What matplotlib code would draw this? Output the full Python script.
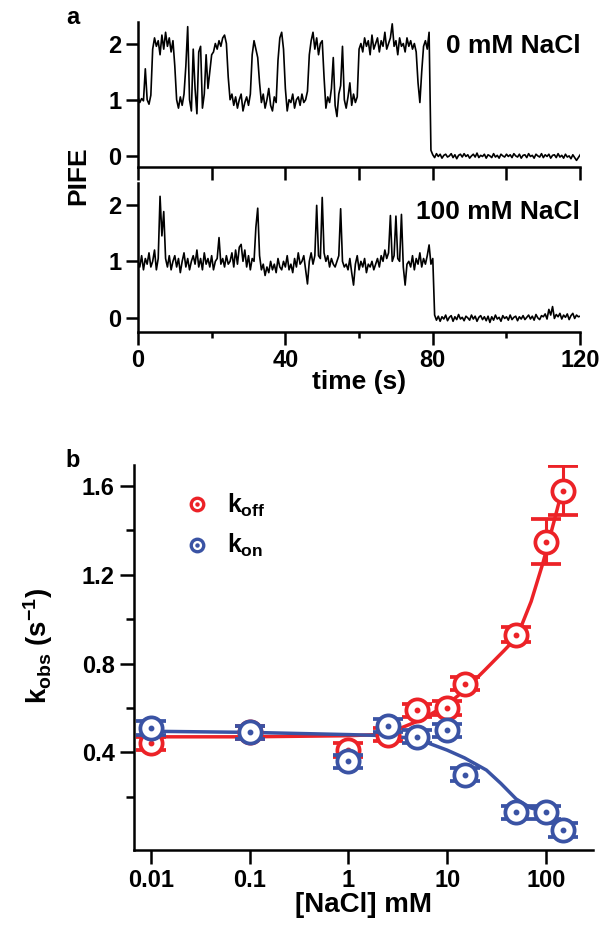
import numpy as np
import matplotlib
matplotlib.use("Agg")
import matplotlib.pyplot as plt
from matplotlib.lines import Line2D
from matplotlib.legend_handler import HandlerTuple
from matplotlib.ticker import FixedLocator, FixedFormatter, NullLocator

plt.rcParams['font.family'] = ['Liberation Sans', 'DejaVu Sans']
plt.rcParams['font.weight'] = 'bold'
plt.rcParams['mathtext.fontset'] = 'custom'
plt.rcParams['mathtext.rm'] = 'Liberation Sans:bold'
plt.rcParams['mathtext.it'] = 'Liberation Sans:bold'
plt.rcParams['mathtext.bf'] = 'Liberation Sans:bold'

# ---------------- data: panel a (PIFE traces, sampled every 0.5 s) ----------------
sample_dt = 0.5
trace_0mM = [
    1.05, 0.95, 1.02, 0.98, 1.55, 1.00, 0.92, 1.08, 1.90, 2.10,
    1.95, 2.05, 1.80, 2.15, 1.90, 2.20, 1.95, 2.10, 1.85, 2.05,
    1.60, 1.00, 0.85, 1.05, 0.90, 1.10, 1.60, 2.30, 1.00, 0.80,
    1.90, 1.20, 0.75, 1.85, 1.95, 0.85, 1.10, 1.80, 1.20, 1.50,
    1.80, 1.85, 2.00, 1.90, 2.05, 1.95, 2.10, 2.15, 2.00, 1.40,
    1.00, 1.10, 0.90, 1.05, 0.85, 1.00, 1.10, 0.80, 0.95, 1.05,
    0.90, 1.10, 1.80, 2.05, 1.90, 1.75, 1.30, 0.95, 1.10, 0.85,
    1.00, 1.20, 0.90, 0.80, 1.05, 0.95, 1.70, 2.10, 2.20, 1.90,
    1.20, 0.80, 1.00, 0.95, 1.10, 0.85, 1.00, 1.05, 0.90, 1.10,
    0.95, 1.00, 1.15, 1.80, 2.05, 2.20, 1.90, 2.10, 1.80, 2.00,
    2.05, 1.40, 0.85, 1.05, 0.95, 1.20, 1.75, 0.90, 0.70, 1.10,
    1.25, 1.95, 1.00, 0.85, 1.05, 1.30, 0.90, 1.10, 0.95, 1.05,
    1.90, 2.00, 1.85, 2.10, 1.95, 2.05, 1.80, 2.15, 1.90, 2.00,
    2.10, 1.85, 2.05, 1.95, 2.20, 1.90, 2.00, 2.10, 2.35, 1.95,
    2.05, 1.80, 2.10, 1.95, 2.00, 1.85, 2.10, 1.95, 2.05, 1.90,
    2.00, 1.85, 1.30, 0.95, 1.50, 1.95, 2.05, 1.90, 2.20, 0.10,
    0.02, -0.03, 0.04, -0.01, 0.03, -0.04, 0.01, 0.03, -0.02, 0.00,
    0.04, -0.03, 0.02, -0.05, 0.01, 0.03, -0.02, 0.04, -0.01, 0.02,
    -0.04, 0.00, 0.03, -0.02, 0.05, -0.03, 0.01, -0.01, 0.03, -0.04,
    0.02, 0.00, -0.03, 0.04, -0.02, 0.01, -0.04, 0.03, 0.00, -0.02,
    0.03, -0.01, 0.02, -0.03, 0.04, 0.00, -0.02, 0.03, -0.04, 0.01,
    0.02, -0.03, 0.04, -0.01, 0.01, -0.04, 0.03, 0.00, -0.02, 0.04,
    -0.03, 0.02, -0.01, 0.03, -0.04, 0.01, 0.02, -0.03, 0.04, -0.02,
    0.01, -0.04, 0.03, -0.02, 0.00, -0.05, 0.02, -0.03, -0.08, -0.03,
    0.02,
]
trace_100mM = [
    1.00, 0.90, 1.10, 0.85, 1.05, 0.95, 1.15, 0.90, 1.00, 1.20,
    0.85, 1.05, 2.15, 1.45, 1.88, 1.05, 0.90, 1.10, 0.85, 1.00,
    1.10, 0.90, 1.05, 0.80, 1.00, 1.15, 0.90, 1.05, 0.85, 1.00,
    1.10, 0.95, 1.20, 0.90, 1.05, 0.85, 1.15, 0.95, 1.05, 0.90,
    1.10, 0.85, 1.00, 1.05, 1.42, 0.95, 1.05, 0.90, 1.10, 0.95,
    1.00, 1.15, 0.90, 1.20, 0.95, 1.25, 1.30, 1.00, 1.20, 0.90,
    1.10, 0.85, 1.05, 1.00, 1.60, 1.94, 1.10, 0.85, 0.95, 0.75,
    0.90, 0.80, 1.00, 0.85, 0.95, 0.80, 1.05, 0.90, 0.85, 1.00,
    0.90, 1.10, 0.85, 0.95, 0.80, 1.05, 0.90, 1.15, 0.95, 1.00,
    1.10, 0.85, 0.60, 1.00, 1.15, 0.95, 1.10, 1.99, 1.10, 1.05,
    2.13, 1.15, 1.00, 1.10, 0.90, 1.05, 0.95, 0.90, 1.00, 1.10,
    1.93, 1.00, 0.90, 0.95, 0.85, 1.05, 0.80, 0.58, 0.95, 1.10,
    0.85, 1.00, 0.90, 1.05, 0.80, 0.95, 0.90, 1.00, 0.85, 0.95,
    1.05, 0.90, 1.10, 1.00, 1.20, 1.05, 1.15, 1.81, 1.00, 1.10,
    1.80, 1.05, 1.00, 1.83, 0.90, 0.58, 0.95, 1.00, 0.90, 1.10,
    0.85, 1.05, 0.95, 1.15, 0.90, 1.05, 0.95, 1.10, 1.29, 0.95,
    1.05, 0.05, -0.04, 0.03, -0.06, 0.02, -0.02, 0.05, -0.05, 0.01,
    0.04, -0.06, 0.02, -0.03, 0.06, -0.02, 0.01, -0.05, 0.03, 0.00,
    -0.04, 0.05, -0.02, 0.03, -0.06, 0.01, 0.04, -0.03, 0.02, -0.05,
    0.03, -0.08, 0.02, -0.04, 0.05, -0.02, 0.01, -0.06, 0.04, -0.01,
    0.02, -0.04, 0.05, -0.03, 0.01, 0.03, -0.05, 0.02, -0.02, 0.04,
    -0.03, 0.01, 0.05, -0.02, 0.03, -0.04, 0.06, 0.00, -0.03, 0.04,
    0.02, 0.07, -0.02, 0.15, 0.05, 0.20, -0.01, 0.06, 0.02, 0.08,
    -0.02, 0.05, 0.01, 0.07, -0.03, 0.04, 0.08, -0.01, 0.05, 0.02,
    0.03,
]
trace_labels = ["0 mM NaCl", "100 mM NaCl"]
time_ticks = [0, 40, 80, 120]
pife_ticks = [0, 1, 2]

# ---------------- data: panel b ----------------
nacl_mM = [0.01, 0.1, 1, 2.5, 5, 10, 15, 50, 100, 150]
koff = [0.44, 0.49, 0.41, 0.48, 0.59, 0.60, 0.71, 0.93, 1.35, 1.58]
koff_err = [0.03, 0.03, 0.03, 0.03, 0.03, 0.03, 0.03, 0.034, 0.10, 0.11]
kon = [0.51, 0.49, 0.36, 0.52, 0.47, 0.50, 0.30, 0.13, 0.13, 0.05]
kon_err = [0.03, 0.03, 0.03, 0.03, 0.03, 0.03, 0.03, 0.03, 0.03, 0.03]

koff_fit_x = [0.01, 0.1, 1, 2, 3, 5, 7, 10, 15, 24, 38, 51, 71, 93, 121, 150]
koff_fit_y = [0.47, 0.47, 0.475, 0.48, 0.50, 0.54, 0.575, 0.615, 0.68, 0.77, 0.86, 0.92, 1.08, 1.25, 1.44, 1.60]
kon_fit_x = [0.01, 0.1, 1, 2.5, 5, 10, 15, 25, 35, 50, 70, 100, 150]
kon_fit_y = [0.495, 0.49, 0.48, 0.475, 0.46, 0.41, 0.375, 0.32, 0.26, 0.19, 0.15, 0.13, 0.06]

x_ticks_b = [0.01, 0.1, 1, 10, 100]
x_ticklabels_b = ["0.01", "0.1", "1", "10", "100"]
y_ticks_b = [0.4, 0.8, 1.2, 1.6]
y_minor_b = [0.2, 0.6, 1.0, 1.4]

RED = '#EC2227'
BLUE = '#3A53A4'

fig = plt.figure(figsize=(6.05, 9.39), dpi=100)

spine_w = 1.8
fs_tick = 17
fs_lab = 20
fs_txt = 19

# ---------- panel a ----------
ax1 = fig.add_axes([0.228, 0.822, 0.731, 0.155])
ax2 = fig.add_axes([0.228, 0.6464, 0.731, 0.159])
for ax, tr, lab, ylo, ty in [(ax1, trace_0mM, trace_labels[0], -0.20, 0.83),
                             (ax2, trace_100mM, trace_labels[1], -0.25, 0.805)]:
    t = np.arange(len(tr)) * sample_dt
    ax.plot(t, tr, color='black', lw=1.2)
    ax.set_xlim(0, 120)
    ax.set_ylim(ylo, 2.39)
    for s in ['top', 'right']:
        ax.spines[s].set_visible(False)
    for s in ['left', 'bottom']:
        ax.spines[s].set_linewidth(spine_w)
    ax.set_yticks(pife_ticks)
    ax.tick_params(axis='both', which='major', direction='out', length=9,
                   width=spine_w, labelsize=fs_tick, pad=3)
    ax.tick_params(axis='both', which='minor', direction='out', length=4,
                   width=spine_w)
    ax.text(1.0, ty, lab, transform=ax.transAxes,
            ha='right', va='center', fontsize=fs_txt, fontweight='bold')

ax1.set_xticks([0, 20, 40, 60, 80, 100, 120])
ax1.set_xticklabels([])
ax2.set_xticks(time_ticks)
ax2.xaxis.set_minor_locator(FixedLocator([20, 60, 100]))
ax2.set_xlabel('time (s)', fontsize=19, fontweight='bold', labelpad=-1)
fig.text(0.130, 0.813, 'PIFE', rotation=90, ha='center', va='center',
         fontsize=fs_txt, fontweight='bold')
fig.text(0.12, 0.981, 'a', ha='center', va='center', fontsize=17, fontweight='bold')

# ---------- panel b ----------
axb = fig.add_axes([0.2215, 0.0948, 0.7585, 0.41])
axb.set_xscale('log')
axb.set_xlim(0.0067, 300)
axb.set_ylim(-0.04, 1.695)
for s in ['top', 'right']:
    axb.spines[s].set_visible(False)
for s in ['left', 'bottom']:
    axb.spines[s].set_linewidth(spine_w)

axb.plot(koff_fit_x, koff_fit_y, color=RED, lw=2.5, zorder=2, solid_joinstyle='round')
axb.plot(kon_fit_x, kon_fit_y, color=BLUE, lw=2.5, zorder=2.1, solid_joinstyle='round')

for y, e, c, z in [(koff, koff_err, RED, 3), (kon, kon_err, BLUE, 4)]:
    axb.errorbar(nacl_mM, y, yerr=e, fmt='o', ms=16, mfc='white', mec=c, mew=2.7,
                 ecolor=c, elinewidth=2.2, capsize=11, capthick=2.2, zorder=z)
    axb.plot(nacl_mM, y, 'o', ms=3.2, color=c, zorder=z + 0.5)

axb.xaxis.set_major_locator(FixedLocator(x_ticks_b))
axb.xaxis.set_major_formatter(FixedFormatter(x_ticklabels_b))
axb.xaxis.set_minor_locator(NullLocator())
axb.yaxis.set_major_locator(FixedLocator(y_ticks_b))
axb.yaxis.set_minor_locator(FixedLocator(y_minor_b))
axb.set_yticklabels(['0.4', '0.8', '1.2', '1.6'])
axb.tick_params(axis='both', which='major', direction='out', length=10,
                width=spine_w, labelsize=fs_tick, pad=4)
axb.tick_params(axis='both', which='minor', direction='out', length=6,
                width=spine_w)
axb.set_xlabel('[NaCl] mM', fontsize=fs_lab, fontweight='bold', labelpad=0)
axb.set_ylabel(r'$k_{obs}$ (s$^{-1}$)', fontsize=fs_lab, fontweight='bold')
axb.yaxis.set_label_coords(-0.172, 0.53)

def ring(c):
    return Line2D([], [], ls='none', marker='o', ms=9, mfc='white', mec=c, mew=2.4)

def dot(c):
    return Line2D([], [], ls='none', marker='o', ms=2.2, color=c)

leg = axb.legend([(ring(RED), dot(RED)), (ring(BLUE), dot(BLUE))],
                 [r'$k_{off}$', r'$k_{on}$'],
                 handler_map={tuple: HandlerTuple(ndivide=1, pad=0)},
                 loc='upper left', bbox_to_anchor=(0.062, 0.99), frameon=False,
                 fontsize=18, handlelength=1.0, handletextpad=0.7,
                 labelspacing=0.55)

fig.text(0.12, 0.51, 'b', ha='center', va='center', fontsize=17, fontweight='bold')

fig.savefig('out.png', dpi=100)
